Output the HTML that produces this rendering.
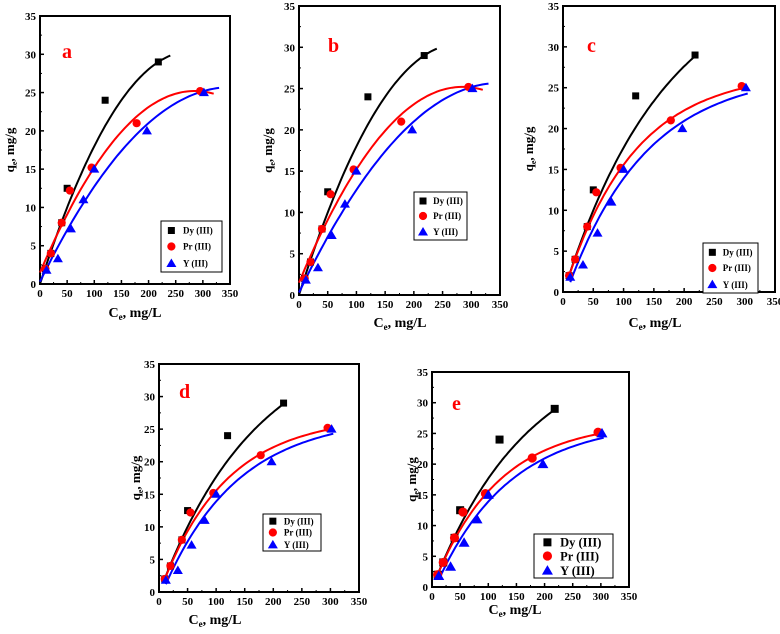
<!DOCTYPE html>
<html><head><meta charset="utf-8"><style>
body{margin:0;background:#fff;}
svg text{font-family:"Liberation Serif",serif;font-weight:bold;}
</style></head><body>
<svg id="fig" width="780" height="629" xmlns="http://www.w3.org/2000/svg"></svg>
<script>
const dyX=[10,20,40,50,120,218];
const dyY=[2,4,8,12.5,24,29];
const prX=[10,20,40,55,95,178,295];
const prY=[2,4,8,12.2,15.2,21,25.2];
const yX=[12,33,57,80,100,197,302];
const yY=[1.8,3.3,7.2,11,15,20,25];
const xTicks=[0,50,100,150,200,250,300,350];
const yTicks=[0,5,10,15,20,25,30,35];
// quadratic fit params [c0,c1,c2,xmin,xmax]
const quadDy=[0,0.2198,-0.000398,0,240];
const quadPr=[1.5,0.1664,-0.000292,0,320];
const quadY=[0.3,0.145,-0.000207,0,330];
// saturation fit params [A,B,k,xmin,xmax]
const satDy=[40,40.3,0.0059,10,220];
const satPr=[27,27.3,0.00871,10,300];
const satY=[27,28.3,0.0077,12,305];

const panels=[
 {id:'a',x0:40,x1:230,yb:284,yt:16,lab:[62,58],leg:[161,221,61,51],fs:9,tx:135,ty:317,qx:14,fit:'q'},
 {id:'b',x0:299,x1:500,yb:295,yt:6,lab:[328,52],leg:[414,192,53,48],fs:9,tx:400,ty:327,qx:272,fit:'q'},
 {id:'c',x0:563,x1:775,yb:292,yt:6,lab:[587,52],leg:[703,243,55,50],fs:9,tx:655,ty:327,qx:533,fit:'s'},
 {id:'d',x0:159,x1:359,yb:592,yt:364,lab:[179,398],leg:[263,514,58,37],fs:9,tx:215,ty:624,qx:140,fit:'s'},
 {id:'e',x0:432,x1:629,yb:587,yt:372,lab:[452,410],leg:[534,534,79,44],fs:12.5,tx:515,ty:614,qx:416,fit:'s'}
];
const svg=document.getElementById('fig');
const NS='http://www.w3.org/2000/svg';
function mk(tag,attrs,parent){const e=document.createElementNS(NS,tag);for(const k in attrs)e.setAttribute(k,attrs[k]);(parent||svg).appendChild(e);return e;}
function marker(g,kind,cx,cy,s){
 let m;
 if(kind==='sq')m=mk('rect',{x:cx-s,y:cy-s,width:2*s,height:2*s,fill:'#000'},g);
 else if(kind==='ci')m=mk('circle',{cx:cx,cy:cy,r:s+0.6,fill:'#ff0000'},g);
 else m=mk('polygon',{points:`${cx},${cy-s-1.5} ${cx-s-1.5},${cy+s} ${cx+s+1.5},${cy+s}`,fill:'#0000ff'},g);
 return m;
}
panels.forEach(p=>{
 const g=mk('g',{});
 
 
 const sx=v=>p.x0+(p.x1-p.x0)*v/350;
 const sy=v=>p.yb-(p.yb-p.yt)*v/35;
 const fr=mk('rect',{x:p.x0,y:p.yt,width:p.x1-p.x0,height:p.yb-p.yt,fill:'none',stroke:'#000','stroke-width':2},g);
 
 
 xTicks.forEach((t,i)=>{
  mk('line',{x1:sx(t),x2:sx(t),y1:p.yb,y2:p.yb-4,stroke:'#000','stroke-width':1.5},g);
  if(i<7)mk('line',{x1:sx(t+25),x2:sx(t+25),y1:p.yb,y2:p.yb-2,stroke:'#000','stroke-width':1},g);
  const tl=mk('text',{x:sx(t),y:p.yb+13,'text-anchor':'middle','font-size':11},g);
  tl.textContent=t;
  
  
 });
 yTicks.forEach((t,i)=>{
  mk('line',{x1:p.x0,x2:p.x0+4,y1:sy(t),y2:sy(t),stroke:'#000','stroke-width':1.5},g);
  if(i<7)mk('line',{x1:p.x0,x2:p.x0+2,y1:sy(t+2.5),y2:sy(t+2.5),stroke:'#000','stroke-width':1},g);
  const tl=mk('text',{x:p.x0-4,y:sy(t)+4,'text-anchor':'end','font-size':11},g);
  tl.textContent=t;
  
  
 });
 const xt=mk('text',{x:p.tx,y:p.ty,'text-anchor':'middle','font-size':14},g);
 xt.innerHTML='C<tspan font-size="9" dy="3">e</tspan><tspan dy="-3">, mg/L</tspan>';
 
 
 const cy=(p.yb+p.yt)/2;
 const yt=mk('text',{x:p.qx,y:cy,'text-anchor':'middle','font-size':13,transform:`rotate(-90 ${p.qx} ${cy})`},g);
 yt.innerHTML='q<tspan font-size="8" dy="3">e</tspan><tspan dy="-3">, mg/g</tspan>';
 
 
 const pl=mk('text',{x:p.lab[0],y:p.lab[1],'font-size':20,fill:'#ff0000'},g);
 pl.textContent=p.id;
 
 
 const fits=p.fit==='q'?[[quadDy,'#000'],[quadPr,'#ff0000'],[quadY,'#0000ff']]:[[satDy,'#000'],[satPr,'#ff0000'],[satY,'#0000ff']];
 fits.forEach(([f,c])=>{
  let d='';
  for(let i=0;i<=60;i++){const x=f[3]+(f[4]-f[3])*i/60;
   const y=p.fit==='q'?f[0]+f[1]*x+f[2]*x*x:f[0]-f[1]*Math.exp(-f[2]*x);
   d+=(i?'L':'M')+sx(x).toFixed(1)+','+sy(y).toFixed(1);}
  const path=mk('path',{d:d,fill:'none',stroke:c,'stroke-width':2},g);
  
  
 });
 const ms=p.id==='e'?4:3.5;
 dyX.forEach((x,i)=>{const m=marker(g,'sq',sx(x),sy(dyY[i]),ms);});
 prX.forEach((x,i)=>{const m=marker(g,'ci',sx(x),sy(prY[i]),ms);});
 yX.forEach((x,i)=>{const m=marker(g,'tr',sx(x),sy(yY[i]),ms);});
 const [lx,ly,lw,lh]=p.leg;
 const lg=mk('g',{},g);
 
 
 mk('rect',{x:lx,y:ly,width:lw,height:lh,fill:'#fff',stroke:'#000','stroke-width':1},lg);
 const names=['Dy (III)','Pr (III)','Y (III)'];const kinds=['sq','ci','tr'];
 names.forEach((n,i)=>{const yy=ly+lh*(i+0.5)/3+ (i===0?1:0);
  marker(lg,kinds[i],lx+lw*0.17,yy,ms);
  const t=mk('text',{x:lx+lw*(p.id==='e'?0.33:0.36),y:yy+p.fs*0.35,'font-size':p.fs},lg);
  t.textContent=n;
  
  
 });
});
</script>
</body></html>
